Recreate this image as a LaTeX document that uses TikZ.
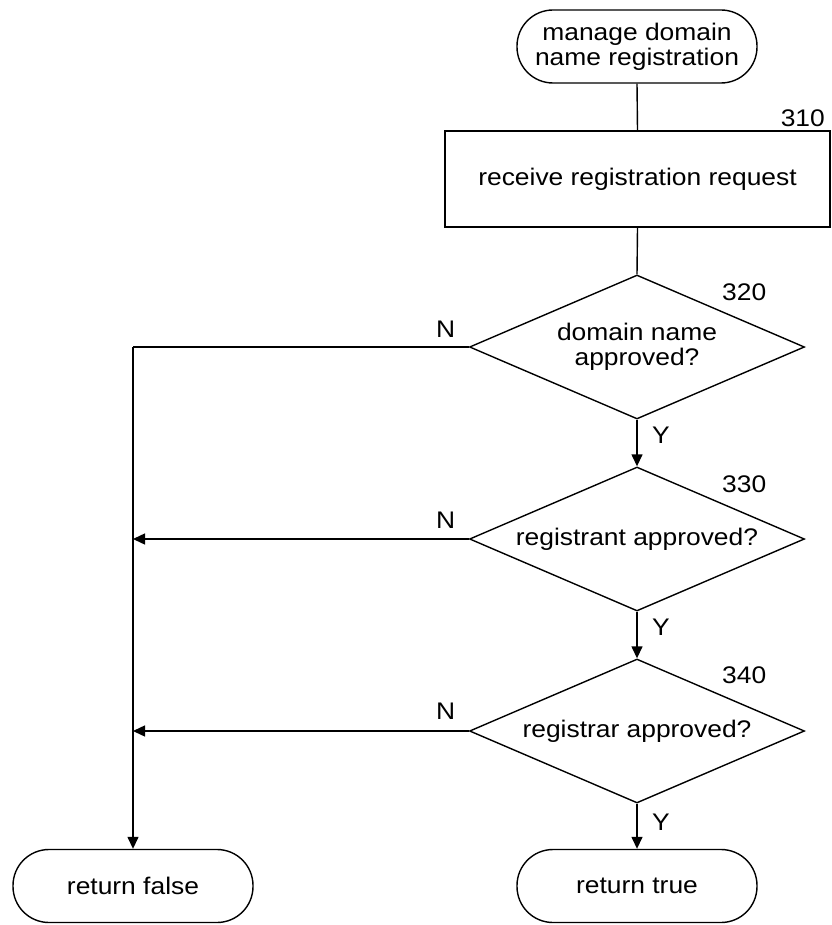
\documentclass[tikz,border=0pt]{standalone}
\usepackage{fontspec}
\setmainfont[FakeStretch=1.1]{Liberation Sans}
\usetikzlibrary{arrows.meta,shapes.geometric}
\begin{document}
\begin{tikzpicture}[x=1pt,y=-1pt,
  every node/.style={font=\fontsize{24}{25}\selectfont},
  term/.style={draw,line width=1.4pt,rectangle,rounded corners=36pt,minimum width=240pt,minimum height=73pt,align=center,inner sep=2pt},
  procbox/.style={draw,line width=1.4pt,rectangle,minimum width=385pt,minimum height=96pt,inner sep=2pt},
  decision/.style={draw,line width=1.4pt,diamond,aspect=2.32,minimum width=335pt,minimum height=144pt,inner sep=1pt,align=center},
  conn/.style={line width=1.4pt},
  arr/.style={line width=1.4pt,-{Triangle[length=12pt,width=11pt]}},
  lbl/.style={inner sep=0pt}
]
\useasboundingbox (0,0) rectangle (831,925);
\node[term] (start) at (637,46.5) {manage domain\\name registration};
\node[procbox] (s310) at (637.5,179) {receive registration request};
\node[decision] (d320) at (637,347) {domain name\\approved?};
\node[decision] (d330) at (637,539) {registrant approved?};
\node[decision] (d340) at (637,731) {registrar approved?};
\node[term] (rfalse) at (133,886) {return false};
\node[term] (rtrue) at (637,886) {return true};

\coordinate (c1) at (133,347);
\coordinate (c2) at (133,539);
\coordinate (c3) at (133,731);

\draw[conn] (start.south) -- (s310.north);
\draw[conn] (s310.south) -- (d320.north);
\draw[arr] (d320.south) -- (d330.north);
\draw[arr] (d330.south) -- (d340.north);
\draw[arr] (d340.south) -- (rtrue.north);
\draw[conn] (d320.west) -- (c1);
\draw[arr] (c1) -- (rfalse.north);
\draw[arr] (d330.west) -- (c2);
\draw[arr] (d340.west) -- (c3);

\node[lbl,anchor=base east] (l310) at (825,127) {310};
\node[lbl,anchor=base west] (l320) at (722,300) {320};
\node[lbl,anchor=base west] (l330) at (722,492) {330};
\node[lbl,anchor=base west] (l340) at (722,683) {340};
\node[lbl,anchor=base west] (y1) at (652,443) {Y};
\node[lbl,anchor=base west] (y2) at (652,635) {Y};
\node[lbl,anchor=base west] (y3) at (652,830) {Y};
\node[lbl,anchor=base west] (n1) at (436,337) {N};
\node[lbl,anchor=base west] (n2) at (436,528) {N};
\node[lbl,anchor=base west] (n3) at (436,719) {N};
\end{tikzpicture}
\end{document}
